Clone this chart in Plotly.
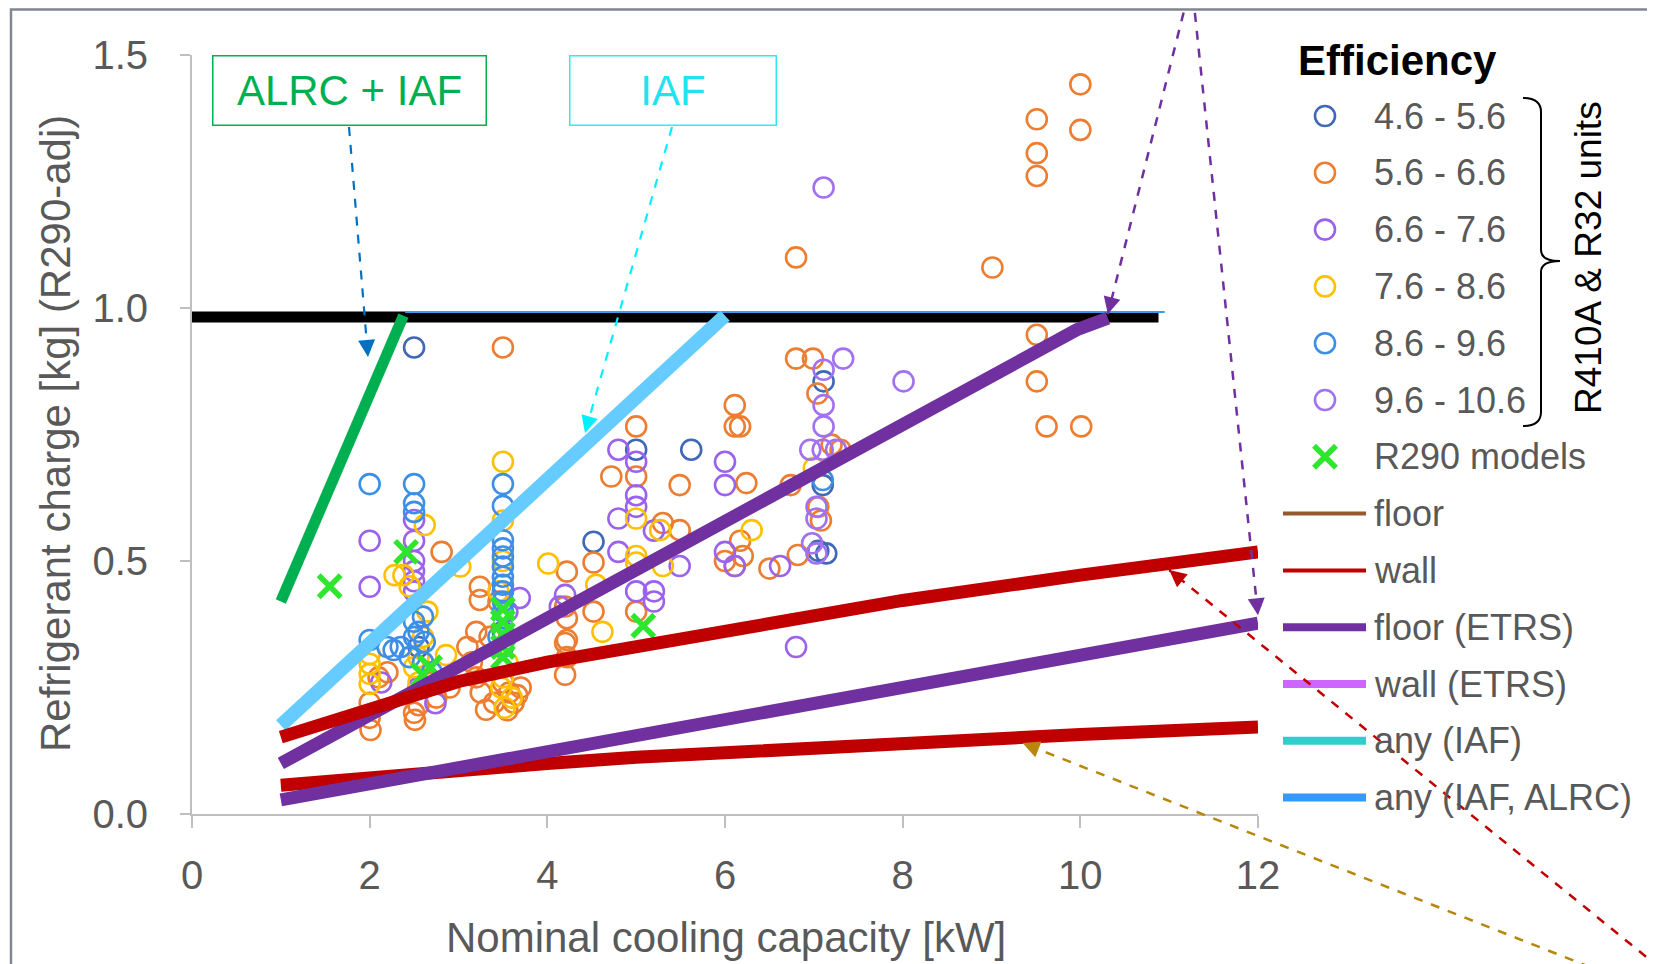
import plotly.graph_objects as go

# ---------------- data ----------------
eff_names = ["4.6 - 5.6", "5.6 - 6.6", "6.6 - 7.6", "7.6 - 8.6", "8.6 - 9.6", "9.6 - 10.6"]
eff_colors = ["#4168B6", "#ED7D31", "#9B62EC", "#FFC000", "#3D8FE5", "#A271F1"]

e1_x = [2.50, 4.52, 5.00, 5.62, 7.11, 7.14, 7.10, 3.50, 2.55, 7.05]
e1_y = [0.922, 0.538, 0.720, 0.720, 0.855, 0.515, 0.650, 0.360, 0.330, 0.520]

e2_x = [10.00, 10.00, 9.51, 9.51, 9.51, 9.01, 6.80, 9.51, 9.51, 9.62, 10.01,
        3.50, 6.80, 6.99, 7.04, 6.11, 6.11, 6.17, 5.00, 7.20, 7.30, 6.24, 6.74, 5.49, 4.72, 5.00,
        5.30, 5.49, 6.00, 6.11, 6.20, 6.17, 6.50, 6.82, 7.05, 7.08, 4.22, 4.52, 4.52, 4.22, 4.22, 4.22, 4.20, 5.00, 4.20,
        2.81, 3.24, 3.24, 3.20, 3.15, 3.20, 3.25, 3.31, 3.40, 3.50, 3.57, 3.62, 3.66, 3.70, 3.55,
        2.01, 2.00, 2.00, 2.51, 2.50, 2.55, 2.60, 2.70, 2.75, 2.90, 2.10, 2.20, 3.45, 3.35, 3.10, 4.20]
e2_y = [1.442, 1.352, 1.373, 1.306, 1.261, 1.080, 1.100, 0.947, 0.855, 0.766, 0.766,
        0.922, 0.900, 0.900, 0.831, 0.808, 0.766, 0.766, 0.766, 0.730, 0.720, 0.654, 0.650, 0.650, 0.667, 0.667,
        0.575, 0.561, 0.500, 0.490, 0.510, 0.540, 0.485, 0.512, 0.607, 0.580, 0.479, 0.497, 0.400, 0.387, 0.344, 0.310, 0.275, 0.400, 0.410,
        0.518, 0.449, 0.423, 0.360, 0.300, 0.270, 0.240, 0.206, 0.220, 0.260, 0.240, 0.220, 0.235, 0.250, 0.205,
        0.166, 0.190, 0.220, 0.186, 0.200, 0.215, 0.300, 0.260, 0.230, 0.250, 0.270, 0.280, 0.420, 0.350, 0.330, 0.338]

e3_x = [2.50, 2.00, 2.50, 2.00, 2.50, 2.50, 2.50, 2.50, 3.69, 2.13, 2.74, 2.55, 4.20, 4.14,
        4.80, 5.00, 5.00, 5.00, 4.80, 5.20, 4.80, 5.49, 5.00, 5.20, 5.20, 6.00, 6.00, 6.00, 6.11, 6.62, 6.80, 3.55]
e3_y = [0.581, 0.540, 0.540, 0.449, 0.500, 0.480, 0.460, 0.440, 0.427, 0.260, 0.219, 0.250, 0.433, 0.410,
        0.720, 0.696, 0.630, 0.607, 0.584, 0.560, 0.518, 0.490, 0.440, 0.440, 0.420, 0.696, 0.650, 0.518, 0.490, 0.490, 0.330, 0.400]

e4_x = [3.50, 2.62, 3.50, 3.02, 4.01, 2.28, 2.38, 2.00, 2.00, 2.00, 2.00, 2.86, 2.50, 2.55, 2.60,
        3.50, 3.55, 3.50, 3.60, 4.55, 4.62, 5.00, 5.00, 5.00, 5.27, 5.30, 6.30, 7.00, 2.65, 2.45, 3.45, 2.55, 3.52, 3.48]
e4_y = [0.696, 0.571, 0.580, 0.489, 0.495, 0.472, 0.472, 0.316, 0.297, 0.277, 0.257, 0.314, 0.290, 0.260, 0.350,
        0.500, 0.300, 0.270, 0.230, 0.453, 0.360, 0.584, 0.510, 0.497, 0.561, 0.490, 0.561, 0.684, 0.400, 0.450, 0.440, 0.310, 0.210, 0.250]

e5_x = [2.00, 2.50, 3.50, 2.50, 2.50, 3.50, 3.50, 3.50, 3.50, 3.50, 3.50, 3.50, 3.50, 3.50, 3.50,
        2.00, 2.27, 2.20, 2.35, 2.50, 2.55, 2.60, 2.50, 2.62, 2.45, 2.60, 2.70, 3.45, 3.50, 7.10]
e5_y = [0.652, 0.652, 0.652, 0.614, 0.597, 0.609, 0.541, 0.525, 0.509, 0.489, 0.469, 0.453, 0.440, 0.420, 0.400,
        0.344, 0.324, 0.330, 0.330, 0.380, 0.360, 0.390, 0.350, 0.340, 0.310, 0.300, 0.280, 0.350, 0.330, 0.660]

e6_x = [7.11, 7.33, 7.11, 7.11, 7.11, 6.96, 7.10, 7.25, 8.01, 7.03, 7.03, 6.98, 7.03]
e6_y = [1.238, 0.900, 0.878, 0.808, 0.766, 0.720, 0.720, 0.720, 0.855, 0.607, 0.584, 0.535, 0.515]

r290_name = "R290 models"
r290_x = [1.55, 2.41, 2.60, 2.68, 3.50, 3.50, 3.50, 3.50, 3.50, 5.08]
r290_y = [0.450, 0.518, 0.275, 0.290, 0.405, 0.380, 0.355, 0.330, 0.310, 0.372]

# charge-limit curves
cap_x = [0.0, 10.88]
cap_y = [0.982, 0.982]
cap2_x = [2.40, 10.95]
cap2_y = [0.992, 0.992]
alrc_x = [1.0, 2.38]
alrc_y = [0.420, 0.985]
iaf_x = [1.0, 6.0]
iaf_y = [0.175, 0.985]
floor_etrs_hi_x = [1.0, 9.96, 10.31]
floor_etrs_hi_y = [0.100, 0.957, 0.980]
floor_etrs_lo_x = [1.0, 12.0]
floor_etrs_lo_y = [0.028, 0.377]
wall_hi_x = [1.0, 2.0, 3.0, 4.0, 5.0, 6.0, 8.0, 10.0, 12.0]
wall_hi_y = [0.152, 0.210, 0.262, 0.300, 0.330, 0.360, 0.422, 0.472, 0.518]
wall_lo_x = [1.0, 2.0, 3.0, 4.0, 5.0, 6.0, 8.0, 10.0, 12.0]
wall_lo_y = [0.057, 0.073, 0.087, 0.100, 0.112, 0.122, 0.140, 0.157, 0.172]

x_ticks = [0, 2, 4, 6, 8, 10, 12]
y_ticks = [0.0, 0.5, 1.0, 1.5]
x_title = "Nominal cooling capacity [kW]"
y_title = "Refrigerant charge [kg] (R290-adj)"

line_names = ["floor", "wall", "floor (ETRS)", "wall (ETRS)", "any (IAF)", "any (IAF, ALRC)"]
line_colors = ["#96582C", "#C00000", "#7030A0", "#CC66FF", "#33CCCC", "#3399FF"]
line_widths = [4, 4, 8, 8, 8, 8]

# ---------------- layout constants ----------------
PAGE_W, PAGE_H = 1655, 964
OFF = 8                      # page body margin; the figure starts at (8, 8)
W, H = PAGE_W - OFF, PAGE_H - OFF
PX0, PX1 = 192, 1258         # page pixel of x=0 and x=12
PY0, PY1 = 814, 55           # page pixel of y=0 and y=1.5
FONT = "Liberation Sans, Arial, sans-serif"
GRAY = "#595959"
LEG_FS = 36


def xp(x):
    return PX0 + x * (PX1 - PX0) / 12.0


def yp(y):
    return PY0 - y * (PY0 - PY1) / 1.5


fig = go.Figure()

eff_x = [e1_x, e2_x, e3_x, e4_x, e5_x, e6_x]
eff_y = [e1_y, e2_y, e3_y, e4_y, e5_y, e6_y]
MS = 20
MLW = 2.6
for name, col, xs, ys in zip(eff_names, eff_colors, eff_x, eff_y):
    fig.add_trace(go.Scatter(x=xs, y=ys, mode="markers", name=name, showlegend=False,
                             marker=dict(symbol="circle-open", size=MS, color=col,
                                         line=dict(width=MLW, color=col))))

XCOL = "#2EE62E"
XS = 22
fig.add_trace(go.Scatter(x=r290_x, y=r290_y, mode="markers", name=r290_name, showlegend=False,
                         marker=dict(symbol="x-thin-open", size=XS, color=XCOL,
                                     line=dict(width=5.5, color=XCOL))))


def add_line(xs, ys, col, w):
    fig.add_trace(go.Scatter(x=xs, y=ys, mode="lines", showlegend=False, hoverinfo="skip",
                             line=dict(color=col, width=w)))


add_line(cap_x, cap_y, "#000000", 11)
add_line(cap2_x, cap2_y, "#3C9BF0", 2)
add_line(iaf_x, iaf_y, "#66CCFF", 14)
add_line(alrc_x, alrc_y, "#00B050", 11)
add_line(wall_lo_x, wall_lo_y, "#C00000", 13)
add_line(floor_etrs_lo_x, floor_etrs_lo_y, "#7030A0", 13)
add_line(floor_etrs_hi_x, floor_etrs_hi_y, "#7030A0", 13)
add_line(wall_hi_x, wall_hi_y, "#C00000", 13)

# ---------------- custom legend (page-pixel axes x2/y2) ----------------
ROW0, ROWD = 116, 56.8
MX, TX = 1325, 1372
LX0, LX1 = 1283, 1366
annotations = []
row = 0
for name, col in zip(eff_names, eff_colors):
    yy = ROW0 + ROWD * row
    fig.add_trace(go.Scatter(x=[MX], y=[yy], xaxis="x2", yaxis="y2", mode="markers", showlegend=False,
                             hoverinfo="skip",
                             marker=dict(symbol="circle-open", size=MS, color=col, line=dict(width=MLW, color=col))))
    annotations.append(dict(x=TX, y=yy, xref="x2", yref="y2", text=name, showarrow=False,
                            xanchor="left", yanchor="middle", font=dict(family=FONT, size=LEG_FS, color=GRAY)))
    row += 1
yy = ROW0 + ROWD * row
fig.add_trace(go.Scatter(x=[MX], y=[yy], xaxis="x2", yaxis="y2", mode="markers", showlegend=False,
                         hoverinfo="skip",
                         marker=dict(symbol="x-thin-open", size=XS, color=XCOL, line=dict(width=5.5, color=XCOL))))
annotations.append(dict(x=TX, y=yy, xref="x2", yref="y2", text=r290_name, showarrow=False,
                        xanchor="left", yanchor="middle", font=dict(family=FONT, size=LEG_FS, color=GRAY)))
row += 1
for name, col, w in zip(line_names, line_colors, line_widths):
    yy = ROW0 + ROWD * row
    fig.add_trace(go.Scatter(x=[LX0, LX1], y=[yy, yy], xaxis="x2", yaxis="y2", mode="lines",
                             showlegend=False, hoverinfo="skip", line=dict(color=col, width=w)))
    annotations.append(dict(x=TX, y=yy, xref="x2", yref="y2", text=name, showarrow=False,
                            xanchor="left", yanchor="middle", font=dict(family=FONT, size=LEG_FS, color=GRAY)))
    row += 1

annotations.append(dict(x=1296, y=60, xref="x2", yref="y2", text="<b>Efficiency</b>", showarrow=False,
                        xanchor="left", yanchor="middle", font=dict(family=FONT, size=42, color="#000000")))
annotations.append(dict(x=1588, y=258, xref="x2", yref="y2", text="R410A & R32 units", showarrow=False,
                        textangle=-90, xanchor="center", yanchor="middle",
                        font=dict(family=FONT, size=37, color="#000000")))

# axis titles
annotations.append(dict(x=726, y=937, xref="x2", yref="y2", text=x_title, showarrow=False,
                        xanchor="center", yanchor="middle", font=dict(family=FONT, size=42, color=GRAY)))
annotations.append(dict(x=55, y=434, xref="x2", yref="y2", text=y_title, showarrow=False, textangle=-90,
                        xanchor="center", yanchor="middle", font=dict(family=FONT, size=42, color=GRAY)))

# boxed labels
annotations.append(dict(x=349.5, y=90.5, xref="x2", yref="y2", text="ALRC + IAF", showarrow=False,
                        width=272, height=68, bordercolor="#00B050", borderwidth=1.5, borderpad=0,
                        bgcolor="white", font=dict(family=FONT, size=42, color="#00B050")))
annotations.append(dict(x=673, y=90.5, xref="x2", yref="y2", text="IAF", showarrow=False,
                        width=205, height=68, bordercolor="#2EEAF2", borderwidth=1.5, borderpad=0,
                        bgcolor="white", font=dict(family=FONT, size=42, color="#1EE3F0")))

shapes = []
# outer frame
shapes.append(dict(type="rect", xref="x2", yref="y2", x0=11, y0=9.5, x1=1720, y1=1020,
                   line=dict(color="#7F868F", width=2.5), layer="below"))
# brace
shapes.append(dict(type="path", xref="x2", yref="y2",
                   path="M 1523 98 Q 1541 98 1541 112 L 1541 250 Q 1541 261 1560 261 "
                        "Q 1541 261 1541 272 L 1541 412 Q 1541 426 1523 426",
                   line=dict(color="#000000", width=2)))


def dashed_arrow(tail, tip, col, w=2.2):
    tx, ty = tail
    hx, hy = tip
    shapes.append(dict(type="line", xref="x2", yref="y2", x0=tx, y0=ty, x1=hx, y1=hy,
                       line=dict(color=col, width=w, dash="dash")))
    dx, dy = tx - hx, ty - hy
    n = (dx * dx + dy * dy) ** 0.5
    annotations.append(dict(x=hx, y=hy, xref="x2", yref="y2", text="", showarrow=True,
                            ax=dx / n * 16, ay=dy / n * 16, arrowhead=2, arrowsize=1.7,
                            arrowwidth=2, arrowcolor=col, standoff=0))


dashed_arrow((349, 127), (368, 357), "#0070C0")
dashed_arrow((672, 127), (585, 433), "#00F0FF")
dashed_arrow((1188, -5), (xp(10.31), yp(0.98) - 4), "#7030A0", 2.5)
dashed_arrow((1193, -5), (xp(12.0), yp(0.385) - 4), "#7030A0", 2.5)
dashed_arrow((1660, 968), (xp(11.0), yp(0.494) + 6), "#C00000", 2.5)
dashed_arrow((1590, 967), (xp(9.35), yp(0.150) + 5), "#B8860B", 2.5)

fig.update_layout(
    template="none",
    width=W, height=H, autosize=False,
    margin=dict(l=0, r=0, t=0, b=0, pad=0, autoexpand=False),
    paper_bgcolor="white", plot_bgcolor="rgba(0,0,0,0)",
    showlegend=False,
    xaxis=dict(domain=[(PX0 - OFF) / W, (PX1 - OFF) / W], range=[0, 12], tickvals=x_ticks, automargin=False,
               ticks="outside", ticklen=12, tickwidth=2, tickcolor="#BFBFBF",
               showline=True, linecolor="#BFBFBF", linewidth=2, showgrid=False, zeroline=False,
               tickfont=dict(family=FONT, size=40, color=GRAY), ticklabelstandoff=13, anchor="y"),
    yaxis=dict(domain=[1 - (PY0 - OFF) / H, 1 - (PY1 - OFF) / H], range=[0, 1.5], tickvals=y_ticks,
               tickformat=".1f", automargin=False,
               ticks="outside", ticklen=10, tickwidth=2, tickcolor="#BFBFBF",
               showline=True, linecolor="#BFBFBF", linewidth=2, showgrid=False, zeroline=False,
               tickfont=dict(family=FONT, size=40, color=GRAY), ticklabelstandoff=24, anchor="x"),
    # page-pixel axes (figure sits at an 8 px offset inside the page)
    xaxis2=dict(domain=[0, 1], range=[OFF, OFF + W], visible=False, anchor="y2", fixedrange=True,
                automargin=False),
    yaxis2=dict(domain=[0, 1], range=[OFF + H, OFF], visible=False, anchor="x2", fixedrange=True,
                automargin=False),
    annotations=annotations,
    shapes=shapes,
)

fig.write_html("out.html")
